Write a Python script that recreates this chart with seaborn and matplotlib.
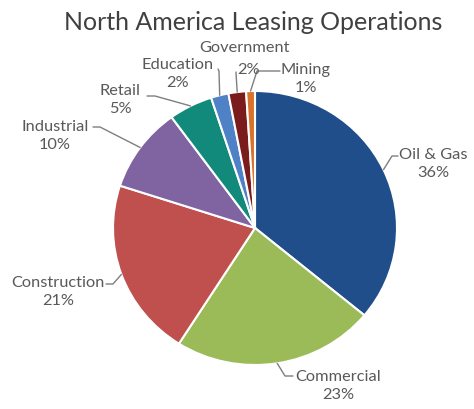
import matplotlib
matplotlib.use("Agg")
import matplotlib.pyplot as plt
import seaborn as sns
import numpy as np

# Share of leasing operations by sector (percent)
sectors = ["Oil & Gas", "Commercial", "Construction", "Industrial",
           "Retail", "Education", "Government", "Mining"]
shares = [36, 23, 21, 10, 5, 2, 2, 1]
colors = ["#1F4E8A", "#9BBB59", "#C0504D", "#8064A2",
          "#118A7B", "#4F81C6", "#7A1C1C", "#D9732C"]

sns.set_theme(style="white")
plt.rcParams["font.family"] = ["Lato", "DejaVu Sans"]

W, H = 474, 410
fig = plt.figure(figsize=(W / 100, H / 100), dpi=100)
ax = fig.add_axes([0, 0, 1, 1])

# pie centre and radii in pixels (slightly wider than tall)
cx, cy, rx, ry = 255, 229, 142, 137
wedges, _ = ax.pie(shares, colors=colors, startangle=90, counterclock=False,
                   wedgeprops=dict(edgecolor="white", linewidth=1.5))
ax.set_aspect("auto")
ax.set_xlim(-cx / rx, (W - cx) / rx)
ax.set_ylim(-(H - cy) / ry, cy / ry)
ax.axis("off")


def to_data(px, py):
    return (px - cx) / rx, (cy - py) / ry


# label centre, text-side leader start, leader elbow (all in pixels)
layout = {
    "Oil & Gas":    ((433, 164), (398, 157), (392, 157)),
    "Commercial":   ((338, 386), (293, 377), (285, 377)),
    "Construction": ((58, 292),  (106, 285), (113, 285)),
    "Industrial":   ((55, 136),  (93, 128),  (100, 128)),
    "Retail":       ((120, 100), (147, 97),  (155, 97)),
    "Education":    ((178, 74),  (218, 70),  (219, 72)),
    "Government":   ((245, 59),  (236, 73),  (236, 74)),
    "Mining":       ((306, 79),  (280, 72),  (257, 72)),
}

label_size = 11.8
text_color = "#595959"
for w, name, val in zip(wedges, sectors, shares):
    mid = np.deg2rad((w.theta1 + w.theta2) / 2)
    ax_pt = (np.cos(mid), np.sin(mid))
    (tx, ty), start, elbow = layout[name]
    p0 = to_data(*start)
    p1 = to_data(*elbow)
    ax.plot([p0[0], p1[0], ax_pt[0]], [p0[1], p1[1], ax_pt[1]],
            color="#7F7F7F", lw=1.0, solid_joinstyle="round")
    lx, ly = to_data(tx, ty)
    if name == "Government":
        ax.text(lx, ly + 11 / ry, name, ha="center", va="center",
                fontsize=label_size, color=text_color)
        ax.text(lx + 4 / rx, ly - 11 / ry, f"{val}%", ha="center", va="center",
                fontsize=label_size, color=text_color)
    else:
        ax.text(lx, ly, f"{name}\n{val}%", ha="center", va="center",
                fontsize=label_size, color=text_color, linespacing=1.3)

fig.text(253 / W, 1 - 22 / H, "North America Leasing Operations",
         ha="center", va="center", fontsize=18, color="#404040")

fig.savefig("out.png", dpi=100)
